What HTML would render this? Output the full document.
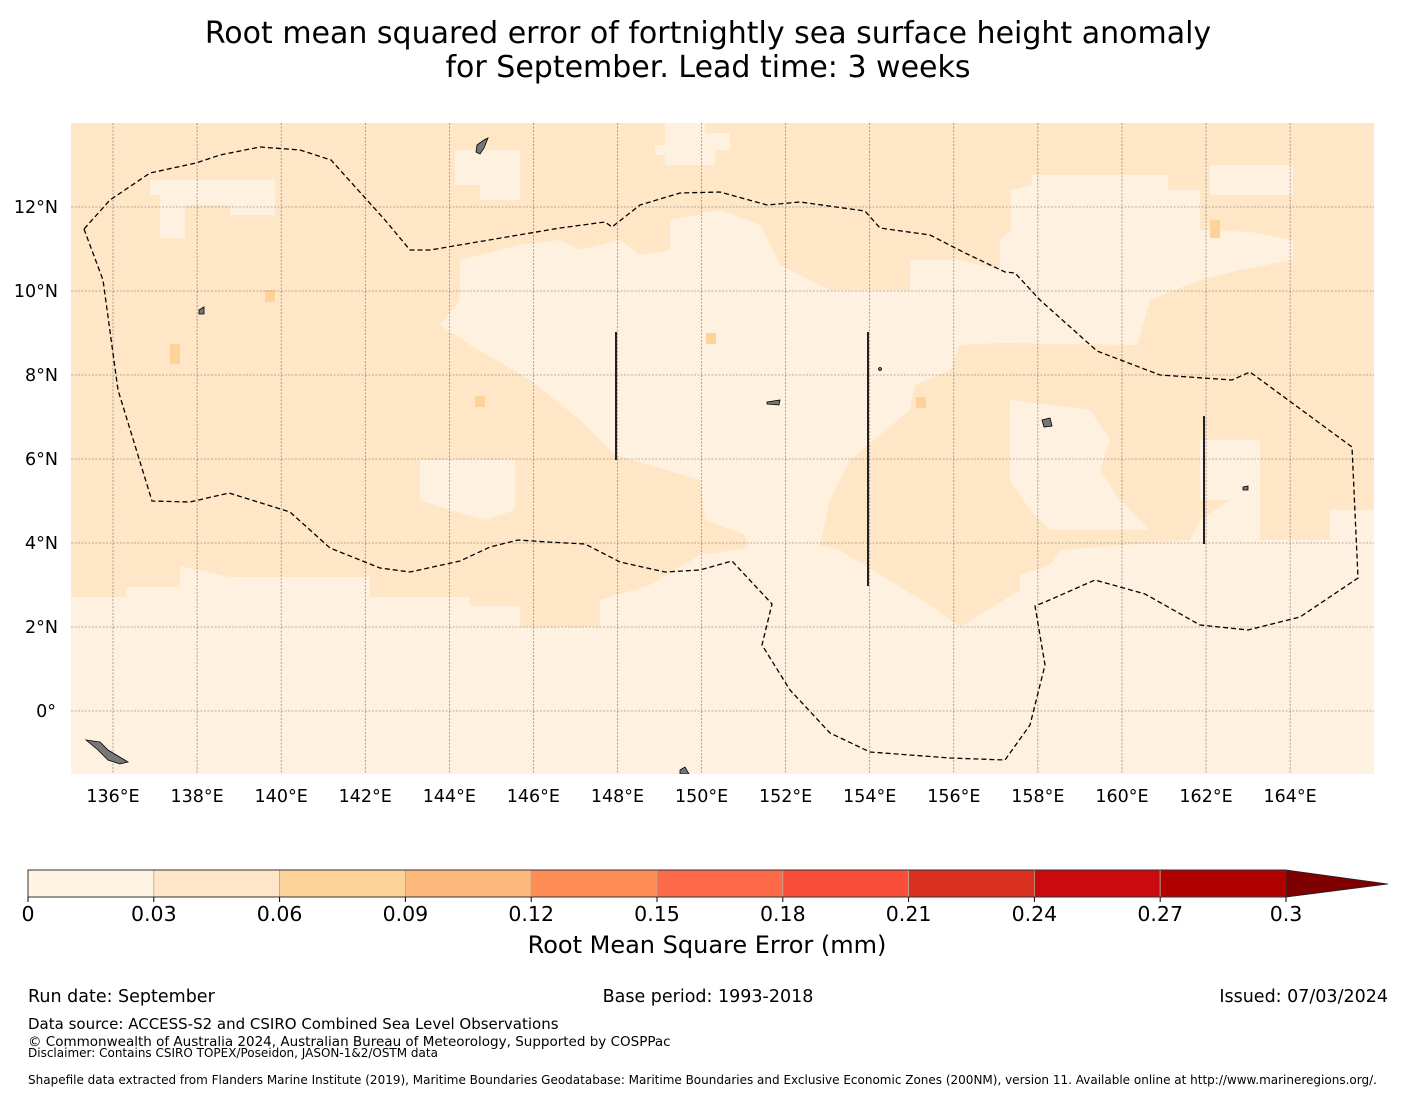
<!DOCTYPE html>
<html><head><meta charset="utf-8"><style>
body{margin:0;background:#fff;width:1416px;height:1095px;overflow:hidden;font-family:"DejaVu Sans","Liberation Sans",sans-serif;}
svg{position:absolute;left:0;top:0}
</style></head><body>
<svg width="1416" height="1095" xmlns="http://www.w3.org/2000/svg">
<text x="708" y="43" font-size="30" text-anchor="middle" fill="#000">Root mean squared error of fortnightly sea surface height anomaly</text>
<text x="708" y="77" font-size="30" text-anchor="middle" fill="#000">for September. Lead time: 3 weeks</text>
<g id="map">
<clipPath id="mc"><rect x="71" y="123" width="1303" height="651"/></clipPath>
<g clip-path="url(#mc)">
<rect x="71" y="123" width="1303" height="651" fill="#fef1df"/>
<polygon fill="#fee6c7" points="71,123 1374,123 1374,175 1168,175 1032,175 1032,185 1011,190 1011,230 1000,240 1000,270 960,260 910,260 910,290 830,290 780,265 760,225 720,210 670,220 670,250 640,255 620,240 580,250 560,240 520,245 460,260 460,300 440,325 470,345 530,380 580,420 615,455 700,480 705,520 745,535 748,548 700,555 650,585 600,600 600,627 520,627 520,606 470,606 470,597 370,597 370,577 265,577 230,577 180,566 180,587 126,587 126,597 71,597"/>
<polygon fill="#fee6c7" points="1374,175 1374,510 1330,510 1330,540 1260,540 1260,500 1230,500 1200,520 1190,540 1060,550 1050,565 1020,575 1020,590 960,627 930,605 880,575 840,550 820,545 830,500 850,460 910,410 915,385 950,370 960,345 1000,343 1137,345 1150,300 1200,280 1240,270 1293,260 1293,240 1250,232 1200,230 1200,190 1168,190 1168,175"/>
<polygon fill="#fef1df" points="1010,400 1090,410 1110,440 1100,470 1120,500 1150,530 1050,530 1030,510 1010,480"/>
<polygon fill="#fef1df" points="1200,440 1260,440 1260,500 1200,500"/>
<polygon fill="#fef1df" points="150,180 275,180 275,215 230,215 230,205 185,205 185,238 160,238 160,195 150,195"/>
<polygon fill="#fef1df" points="665,123 705,123 705,133 730,133 730,150 715,150 715,165 665,165 665,155 655,155 655,145 665,145"/>
<polygon fill="#fef1df" points="455,150 520,150 520,200 480,200 480,185 455,185"/>
<polygon fill="#fef1df" points="1210,165 1293,165 1293,195 1210,195"/>
<polygon fill="#fef1df" points="420,460 515,460 515,510 485,520 450,510 420,500"/>
<rect x="170" y="344" width="10" height="20" fill="#fed39a"/>
<rect x="265" y="290" width="10" height="12" fill="#fed39a"/>
<rect x="475" y="396" width="10" height="11" fill="#fed39a"/>
<rect x="706" y="333" width="10" height="11" fill="#fed39a"/>
<rect x="916" y="397" width="10" height="11" fill="#fed39a"/>
<rect x="1210" y="220" width="10" height="18" fill="#fed39a"/>
<g id="grid" stroke="#444" stroke-width="0.6" stroke-dasharray="2,1.5" opacity="0.75"></g>
<g fill="#777" stroke="#000" stroke-width="0.8">
<path d="M86,740 L100,742 L108,750 L118,756 L128,762 L120,764 L108,760 L98,750 Z"/>
<path d="M477,145 L484,140 L488,138 L484,148 L480,154 L476,152 Z"/>
<path d="M1042,420 L1050,418 L1052,426 L1044,427 Z"/>
<path d="M680,770 L685,767 L689,774 L680,774 Z"/>
<path d="M1243,487 L1248,486 L1248,490 L1243,490 Z"/>
<path d="M199,310 L204,307 L204,314 L199,314 Z"/>
<path d="M767,402 L780,400 L779,405 L767,404 Z"/>
<circle cx="880" cy="369" r="1.5"/>
</g>
</g>
<path fill="none" stroke="#000" stroke-width="1.3" stroke-dasharray="5,3" d="M84,229 L103,280 L118,390 L152,501 L190,502 L229,493 L290,512 L330,548 L380,568 L410,572 L460,561 L490,547 L518,540 L548,542 L585,544 L620,562 L665,572 L700,570 L732,561 L772,604 L762,645 L790,690 L830,733 L870,752 L950,758 L1005,760 L1030,725 L1045,665 L1035,606 L1045,602 L1095,580 L1145,594 L1200,625 L1248,630 L1300,617 L1358,578 L1352,447 L1250,372 L1232,380 L1160,375 L1097,351 L1040,300 L1015,273 L1005,272 L965,253 L930,235 L880,228 L865,211 L800,202 L767,205 L720,192 L680,193 L640,205 L612,227 L605,222 L560,228 L430,250 L410,250 L385,220 L331,160 L300,150 L260,147 L220,155 L196,163 L150,173 L110,200 L84,229"/>
<line x1="616" y1="332" x2="616" y2="460" stroke="#222" stroke-width="2"/>
<line x1="868" y1="332" x2="868" y2="586" stroke="#222" stroke-width="2"/>
<line x1="1204" y1="416" x2="1204" y2="544" stroke="#222" stroke-width="2"/>
<g id="xlabels" font-size="17.5" text-anchor="middle" fill="#000"></g>
<g id="ylabels" font-size="17.5" text-anchor="end" fill="#000"></g>
</g>
<g id="cbar"></g>
<text x="707" y="953" font-size="24" text-anchor="middle">Root Mean Square Error (mm)</text>
<g font-size="17.5" fill="#000">
<text x="28" y="1002">Run date: September</text>
<text x="708" y="1002" text-anchor="middle">Base period: 1993-2018</text>
<text x="1388" y="1002" text-anchor="end">Issued: 07/03/2024</text>
</g>
<text x="28" y="1029" font-size="15">Data source: ACCESS-S2 and CSIRO Combined Sea Level Observations</text>
<text x="28" y="1046" font-size="13.5">© Commonwealth of Australia 2024, Australian Bureau of Meteorology, Supported by COSPPac</text>
<text x="28" y="1057" font-size="12">Disclaimer: Contains CSIRO TOPEX/Poseidon, JASON-1&amp;2/OSTM data</text>
<text x="28" y="1084" font-size="12">Shapefile data extracted from Flanders Marine Institute (2019), Maritime Boundaries Geodatabase: Maritime Boundaries and Exclusive Economic Zones (200NM), version 11. Available online at http://www.marineregions.org/.</text>
</svg>
<script>
const lonTicks=[136,138,140,142,144,146,148,150,152,154,156,158,160,162,164];
const latTicks=[12,10,8,6,4,2,0];
const cbarBounds=[0,0.03,0.06,0.09,0.12,0.15,0.18,0.21,0.24,0.27,0.3];
const cbarColors=["#fff3e2","#ffe6c8","#fed39b","#fdb87b","#fd8d55","#fc6a4a","#fb4e3a","#d92f1e","#c90a0e","#b00000"];
const cbarLabels=["0","0.03","0.06","0.09","0.12","0.15","0.18","0.21","0.24","0.27","0.3"];
const NS="http://www.w3.org/2000/svg";
const xs=lon=>113+(lon-136)*42.04;
const ys=lat=>711-lat*42;
const grid=document.getElementById('grid');
lonTicks.forEach(l=>{const e=document.createElementNS(NS,'line');


e.setAttribute('x1',xs(l));e.setAttribute('x2',xs(l));e.setAttribute('y1',123);e.setAttribute('y2',774);grid.appendChild(e);
const t=document.createElementNS(NS,'text');


t.setAttribute('x',xs(l));t.setAttribute('y',802);t.textContent=l+'°E';document.getElementById('xlabels').appendChild(t);});
latTicks.forEach(l=>{const e=document.createElementNS(NS,'line');


e.setAttribute('x1',71);e.setAttribute('x2',1374);e.setAttribute('y1',ys(l));e.setAttribute('y2',ys(l));grid.appendChild(e);
const t=document.createElementNS(NS,'text');


t.setAttribute('x',l===0?56:58);t.setAttribute('y',ys(l)+6);t.textContent=l===0?'0°':l+'°N';document.getElementById('ylabels').appendChild(t);});
const cb=document.getElementById('cbar');
const cx=v=>28+v/0.3*1258;
for(let i=0;i<cbarColors.length;i++){const r=document.createElementNS(NS,'rect');


r.setAttribute('x',cx(cbarBounds[i]));r.setAttribute('y',870);r.setAttribute('width',cx(cbarBounds[i+1])-cx(cbarBounds[i]));r.setAttribute('height',27);
r.setAttribute('fill',cbarColors[i]);r.setAttribute('stroke',i?'#b8a890':'none');r.setAttribute('stroke-width',0.8);cb.appendChild(r);}
const tri=document.createElementNS(NS,'polygon');


tri.setAttribute('points',`${cx(0.3)},870 1388,884 ${cx(0.3)},897`);tri.setAttribute('fill','#7f0000');tri.setAttribute('stroke','#222');tri.setAttribute('stroke-width',0.8);cb.appendChild(tri);
const fr=document.createElementNS(NS,'rect');


fr.setAttribute('x',28);fr.setAttribute('y',870);fr.setAttribute('width',1258);fr.setAttribute('height',27);fr.setAttribute('fill','none');fr.setAttribute('stroke','#333');fr.setAttribute('stroke-width',1);cb.appendChild(fr);
cbarBounds.forEach((b,i)=>{const tk=document.createElementNS(NS,'line');


tk.setAttribute('x1',cx(b));tk.setAttribute('x2',cx(b));tk.setAttribute('y1',897);tk.setAttribute('y2',902);tk.setAttribute('stroke','#000');cb.appendChild(tk);
const t=document.createElementNS(NS,'text');


t.setAttribute('x',cx(b));t.setAttribute('y',921);t.setAttribute('font-size',20.5);t.setAttribute('text-anchor','middle');t.textContent=cbarLabels[i];cb.appendChild(t);});
</script>
</body></html>
